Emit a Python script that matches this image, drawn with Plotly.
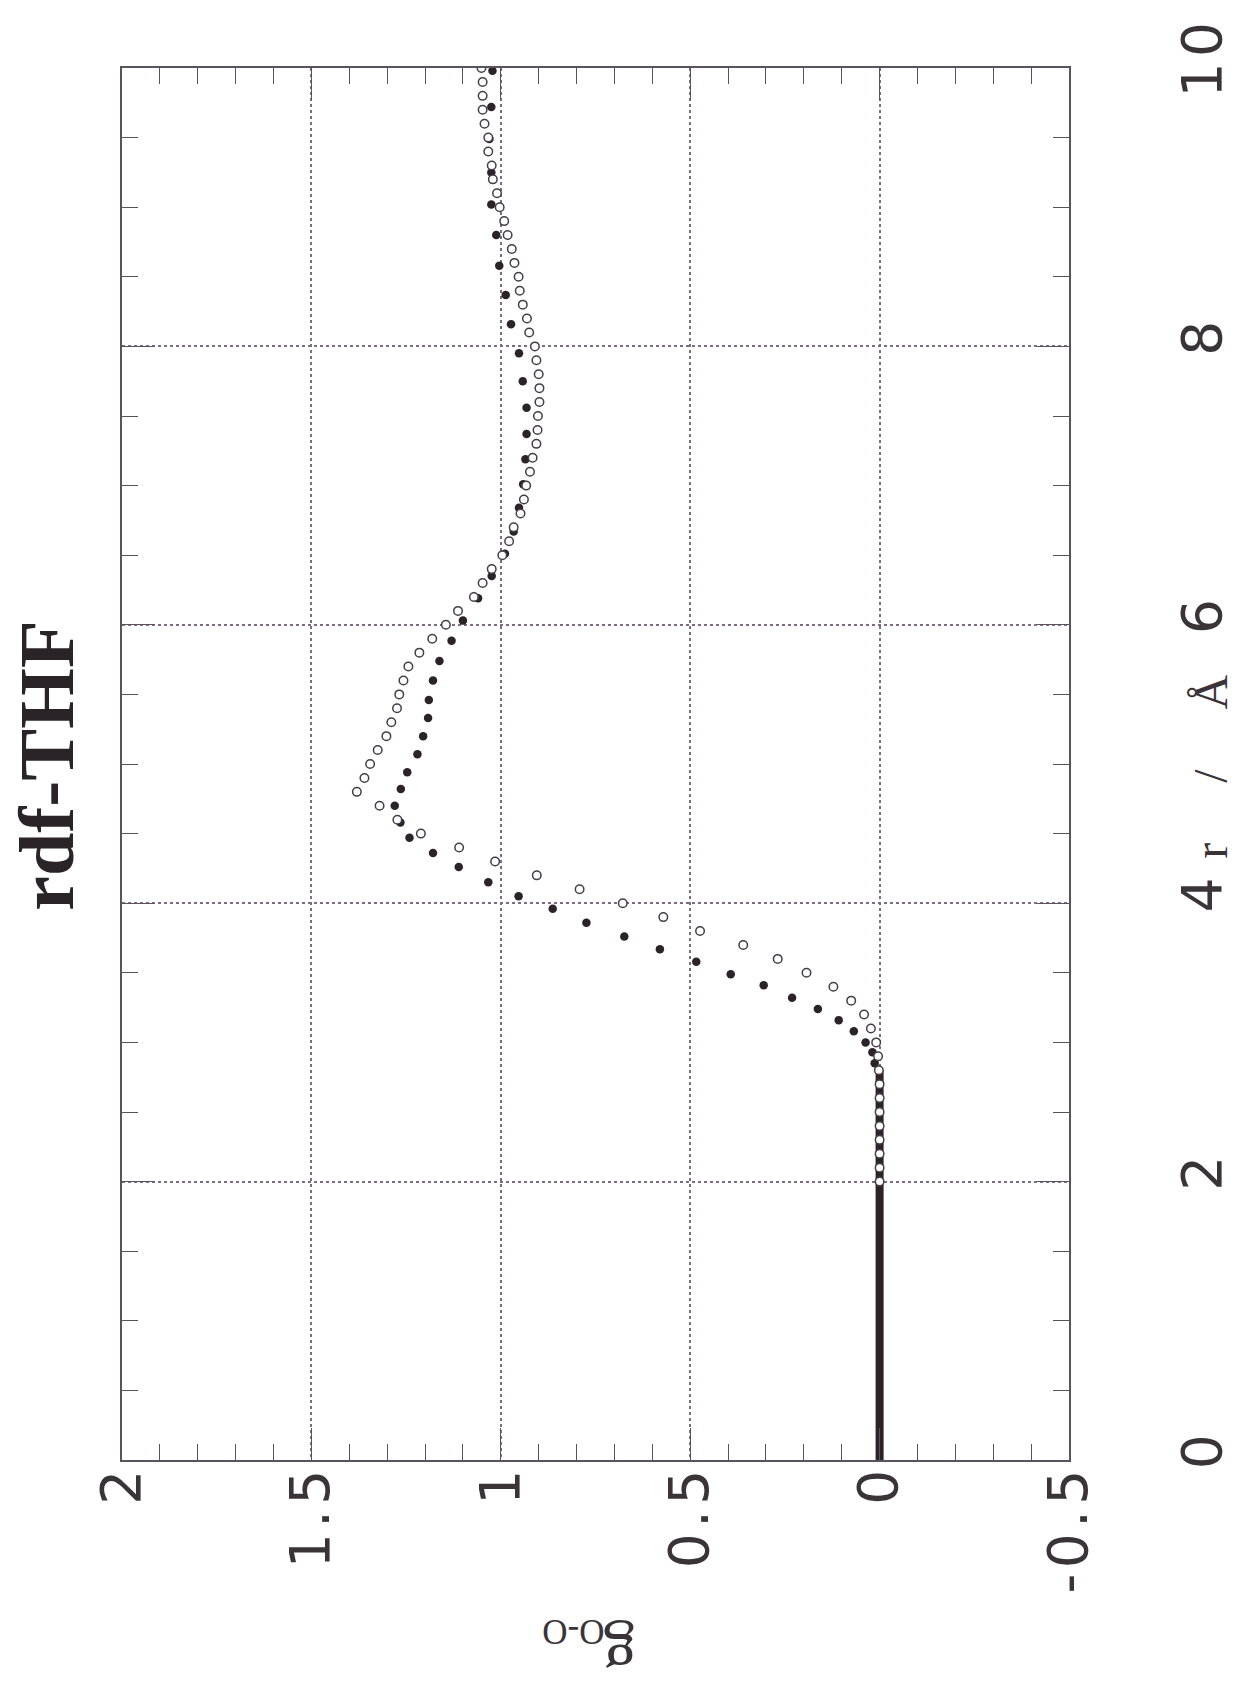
import plotly.graph_objects as go

# ---- data ----
# open circles: r (Å) and g
open_r = [10.0, 9.9, 9.8, 9.7, 9.6, 9.5, 9.4, 9.3, 9.2, 9.1, 9.0, 8.9, 8.8, 8.7, 8.6, 8.5,
          8.4, 8.3, 8.2, 8.1, 8.0, 7.9, 7.8, 7.7, 7.6, 7.5, 7.4, 7.3, 7.2, 7.1, 7.0, 6.9,
          6.8, 6.7, 6.6, 6.5, 6.4, 6.3, 6.2, 6.1, 6.0, 5.9, 5.8, 5.7, 5.6, 5.5, 5.4, 5.3,
          5.2, 5.1, 5.0, 4.9, 4.8, 4.7, 4.6, 4.5, 4.4, 4.3, 4.2, 4.1, 4.0, 3.9, 3.8, 3.7,
          3.6, 3.5, 3.4, 3.3, 3.2, 3.1, 3.0, 2.9, 2.8, 2.7, 2.6, 2.5, 2.4, 2.3, 2.2, 2.1, 2.0]
open_g = [1.051, 1.048, 1.048, 1.048, 1.043, 1.033, 1.033, 1.024, 1.021, 1.010, 1.003, 0.991,
          0.982, 0.971, 0.964, 0.953, 0.950, 0.942, 0.931, 0.925, 0.910, 0.906, 0.900, 0.898,
          0.898, 0.902, 0.903, 0.906, 0.916, 0.923, 0.933, 0.939, 0.948, 0.966, 0.978, 0.996,
          1.024, 1.048, 1.071, 1.113, 1.145, 1.181, 1.215, 1.244, 1.257, 1.268, 1.274, 1.289,
          1.302, 1.325, 1.345, 1.360, 1.380, 1.320, 1.273, 1.211, 1.110, 1.015, 0.905, 0.792,
          0.678, 0.571, 0.474, 0.360, 0.269, 0.193, 0.122, 0.075, 0.041, 0.023, 0.009, 0.004,
          0.002, 0.0, 0.0, 0.0, 0.0, 0.0, 0.0, 0.0, 0.0]

# filled dots: r (Å) and g
filled_r = [9.98, 9.72, 9.49, 9.25, 9.02, 8.80, 8.58, 8.37, 8.16, 7.95, 7.75, 7.56, 7.37,
            7.19, 7.01, 6.84, 6.67, 6.51, 6.35, 6.19, 6.03, 5.886, 5.74, 5.60, 5.46, 5.33,
            5.20, 5.07, 4.94, 4.82, 4.70, 4.58, 4.47, 4.36, 4.26, 4.15, 4.05, 3.96, 3.86,
            3.76, 3.67, 3.58, 3.49, 3.41, 3.32, 3.24, 3.16, 3.08, 3.00, 2.93, 2.85]
filled_g = [1.022, 1.025, 1.030, 1.025, 1.025, 1.012, 1.004, 0.987, 0.973, 0.952, 0.942,
            0.932, 0.932, 0.935, 0.941, 0.952, 0.966, 0.989, 1.024, 1.060, 1.100, 1.130,
            1.162, 1.179, 1.190, 1.192, 1.205, 1.220, 1.247, 1.264, 1.280, 1.265, 1.241,
            1.179, 1.111, 1.033, 0.953, 0.863, 0.774, 0.674, 0.580, 0.484, 0.393, 0.306,
            0.231, 0.163, 0.108, 0.068, 0.037, 0.019, 0.013]

# dense filled points at short distance merge into a solid bar at g = 0
dense_r = [0.0, 2.8]
dense_g = [0.0, 0.0]

g_ticks = [2, 1.5, 1, 0.5, 0, -0.5]
g_ticktext = ["2", "1.5", "1", "0.5", "0", "-0.5"]
r_ticks = [0, 2, 4, 6, 8, 10]
r_ticktext = ["0", "2", "4", "6", "8", "10"]

title_text = "rdf-THF"
NB = "\u00a0"
r_title = "r" + NB * 5 + "/" + NB * 5 + "Å"
g_symbol = "g"
g_subscript = "O-O"

# ---- style ----
ink = "#2b2328"
line_col = "#5a525c"
grid_col = "#7d6c82"
label_col = "#3a3438"
tick_font = dict(family="DejaVu Sans", size=55, color=label_col)
HAIR = "\u200a"


def spaced(s):
    # the printed tick labels are loosely letter-spaced
    return HAIR.join(s)


fig = go.Figure()
fig.add_trace(go.Scatter(x=dense_g, y=dense_r, mode="lines",
                         line=dict(color=ink, width=8), showlegend=False, hoverinfo="skip"))
fig.add_trace(go.Scatter(x=filled_g, y=filled_r, mode="markers",
                         marker=dict(color=ink, size=8.5, line=dict(width=0)),
                         showlegend=False))
fig.add_trace(go.Scatter(x=open_g, y=open_r, mode="markers",
                         marker=dict(color="white", size=8.5, symbol="circle",
                                     line=dict(color="#463d4b", width=1.5)),
                         showlegend=False))

axis_common = dict(
    showline=True, linecolor=line_col, linewidth=1.6, mirror="ticks",
    ticks="inside", ticklen=32, tickwidth=1.3, tickcolor=line_col,
    showgrid=True, gridcolor=grid_col, gridwidth=1.6, griddash="dot",
    zeroline=False, tickangle=-90, tickfont=tick_font,
)

fig.update_layout(
    width=1238, height=1693,
    margin=dict(l=114, r=149, t=60, b=241),
    paper_bgcolor="white", plot_bgcolor="white",
    xaxis=dict(range=[2, -0.5], tickmode="array", tickvals=g_ticks,
               ticktext=[spaced(t) for t in g_ticktext],
               minor=dict(dtick=0.1, ticks="inside", ticklen=16, tickwidth=1.2,
                          tickcolor=line_col, showgrid=False),
               ticklabelstandoff=-14, **axis_common),
    yaxis=dict(range=[0, 10], side="right", tickmode="array", tickvals=r_ticks,
               ticktext=[spaced(t) for t in r_ticktext],
               minor=dict(dtick=0.5, ticks="inside", ticklen=16, tickwidth=1.2,
                          tickcolor=line_col, showgrid=False),
               ticklabelstandoff=84, **axis_common),
    annotations=[
        dict(text=title_text, xref="paper", yref="paper", x=-0.080, y=0.499,
             xanchor="center", yanchor="middle",
             showarrow=False, textangle=-90,
             font=dict(family="Liberation Serif", size=78, color="#2a2428", weight="bold")),
        dict(text=r_title, xref="paper", yref="paper", x=1.150, y=0.498,
             xanchor="center", yanchor="middle",
             showarrow=False, textangle=-90,
             font=dict(family="Liberation Serif", size=48, color=label_col)),
        dict(text=g_symbol, xref="paper", yref="paper", x=0.526, y=-0.141,
             xanchor="center", yanchor="middle",
             showarrow=False, textangle=180,
             font=dict(family="Liberation Serif", size=66, color=label_col)),
        dict(text=g_subscript, xref="paper", yref="paper", x=0.477, y=-0.1236,
             xanchor="center", yanchor="middle",
             showarrow=False, textangle=180,
             font=dict(family="Liberation Serif", size=35, color=label_col)),
    ],
)

fig.write_html("out.html")
